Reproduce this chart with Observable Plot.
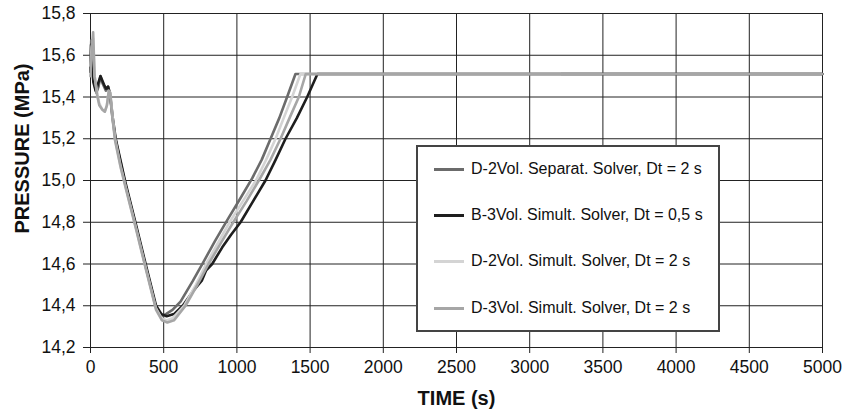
<!DOCTYPE html>
<html>
<head>
<meta charset="utf-8">
<script src="https://cdn.jsdelivr.net/npm/d3@7"></script>
<script src="https://cdn.jsdelivr.net/npm/@observablehq/plot@0.6"></script>
<style>
  body { margin: 0; background: #fff; }
  #wrap { position: relative; width: 847px; height: 413px; font-family: "Liberation Sans", Arial, sans-serif; }
  #wrap svg [aria-label="x-axis label"] { font-weight: bold; font-size: 20px; }
  #wrap svg [aria-label="x-axis tick label"], #wrap svg [aria-label="y-axis tick label"] { font-size: 17.5px; }
  #legend { position: absolute; left: 416px; top: 145px; width: 300px; height: 183px;
    border: 2px solid #444; background: #fff; box-sizing: content-box; }
  .item { position: absolute; left: 0; height: 20px; display: flex; align-items: center; font-size: 16px; color: #111; white-space: nowrap; }
  .swatch { width: 30px; height: 3px; margin-left: 16px; margin-right: 7px; }
</style>
</head>
<body>
<div id="wrap"></div>
<script>
// ---- data ----
const seriesNames = [
  "D-2Vol. Separat. Solver, Dt = 2 s",
  "B-3Vol. Simult. Solver, Dt = 0,5 s",
  "D-2Vol. Simult. Solver, Dt = 2 s",
  "D-3Vol. Simult. Solver, Dt = 2 s"
];
const seriesColors = ["#6b6b6b", "#1e1e1e", "#d4d4d4", "#a6a6a6"];

const sepTime = [0,5,12,25,40,55,68,80,92,105,120,132,150,170,205,239,307,376,444,480,515,560,615,700,772,850,934,1020,1104,1170,1230,1290,1343,1400,5000];
const sepPress = [15.52,15.67,15.55,15.47,15.42,15.45,15.50,15.47,15.45,15.43,15.45,15.42,15.30,15.20,15.09,14.98,14.79,14.59,14.40,14.35,14.36,14.38,14.42,14.52,14.61,14.71,14.81,14.91,15.01,15.10,15.20,15.30,15.40,15.51,15.51];

const b3Time = [0,4,10,20,35,50,68,80,92,106,120,134,152,172,207,242,310,380,448,485,520,570,630,700,760,790,831,900,960,1025,1110,1195,1265,1332,1410,1480,1550,5000];
const b3Press = [15.52,15.65,15.55,15.47,15.43,15.46,15.50,15.48,15.46,15.44,15.45,15.41,15.30,15.20,15.09,14.98,14.79,14.59,14.40,14.36,14.35,14.36,14.40,14.47,14.52,14.57,14.60,14.68,14.74,14.80,14.90,15.00,15.10,15.20,15.30,15.40,15.51,15.51];

const d2Time = [0,8,18,28,45,60,80,98,112,125,135,150,168,205,240,308,378,446,485,520,560,640,720,790,870,950,1040,1130,1200,1264,1320,1377,1434,3210];
const d2Press = [15.55,15.64,15.68,15.50,15.42,15.37,15.34,15.33,15.36,15.43,15.42,15.31,15.20,15.07,14.97,14.78,14.58,14.39,14.34,14.33,14.34,14.40,14.50,14.60,14.70,14.80,14.90,15.00,15.10,15.20,15.30,15.40,15.51,15.51];

const d3Time = [0,8,18,28,45,60,80,98,112,125,135,150,168,207,242,310,380,448,488,525,570,649,730,806,890,975,1065,1150,1230,1298,1360,1423,1470,5000];
const d3Press = [15.50,15.62,15.71,15.50,15.41,15.36,15.34,15.33,15.36,15.43,15.42,15.30,15.19,15.06,14.96,14.77,14.57,14.38,14.33,14.32,14.33,14.40,14.50,14.60,14.70,14.80,14.90,15.00,15.10,15.20,15.30,15.40,15.51,15.51];

const xTicks = [0,500,1000,1500,2000,2500,3000,3500,4000,4500,5000];
const yTicks = [14.2,14.4,14.6,14.8,15.0,15.2,15.4,15.6,15.8];
const yLabel = ["PRESSURE (MPa)"];

// ---- build table ----
const allTimes = [sepTime, b3Time, d2Time, d3Time];
const allPress = [sepPress, b3Press, d2Press, d3Press];
const rows = [];
allTimes.forEach((ts, s) => ts.forEach((t, i) => rows.push({series: seriesNames[s], time: t, pressure: allPress[s][i]})));

const fmtY = d => d.toFixed(1).replace(".", ",");
const fmtX = d => String(d);

const chart = Plot.plot({
  width: 847,
  height: 413,
  marginLeft: 90,
  marginRight: 25,
  marginTop: 13,
  marginBottom: 66,
  style: {fontSize: "17px", fontFamily: "'Liberation Sans', Arial, sans-serif", color: "#111", background: "#fff"},
  x: {domain: [0, 5000]},
  y: {domain: [14.2, 15.8]},
  color: {domain: seriesNames, range: seriesColors},
  marks: [
    Plot.gridX(xTicks, {stroke: "#222", strokeOpacity: 1, strokeWidth: 1}),
    Plot.gridY(yTicks, {stroke: "#222", strokeOpacity: 1, strokeWidth: 1}),
    Plot.axisX(xTicks, {tickSize: 6, tickPadding: 7, stroke: "#222", tickFormat: fmtX, label: "TIME (s)", labelAnchor: "center", labelArrow: "none", labelOffset: 57}),
    Plot.axisY(yTicks, {tickSize: 7, tickPadding: 8, stroke: "#222", tickFormat: fmtY, label: null}),
    Plot.text(yLabel, {frameAnchor: "left", textAnchor: "middle", rotate: -90, dx: -68, dy: -32, fontSize: 20, fontWeight: "bold", fill: "#111"}),
    Plot.ruleX([0], {stroke: "#222"}),
    Plot.ruleY([14.2], {stroke: "#222"}),
    Plot.line(rows, {x: "time", y: "pressure", z: "series", stroke: "series", strokeWidth: 2.6, curve: "linear"})
  ]
});

const wrap = document.getElementById("wrap");
wrap.appendChild(chart);

const legend = document.createElement("div");
legend.id = "legend";
const itemTops = [12, 58, 104, 151];
seriesNames.forEach((name, i) => {
  const it = document.createElement("div");
  it.className = "item";
  it.style.top = itemTops[i] + "px";
  const sw = document.createElement("span");
  sw.className = "swatch";
  sw.style.background = seriesColors[i];
  const tx = document.createElement("span");
  tx.textContent = name;
  it.appendChild(sw);
  it.appendChild(tx);
  legend.appendChild(it);
});
wrap.appendChild(legend);
</script>
</body>
</html>
